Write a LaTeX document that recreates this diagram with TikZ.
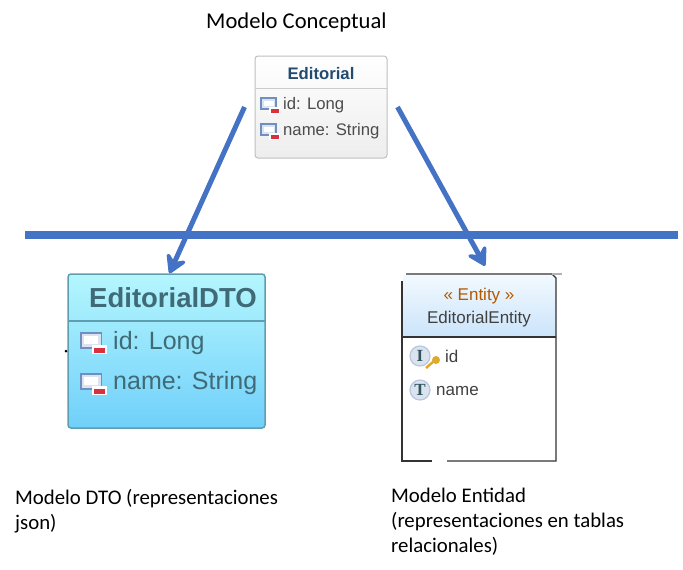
\documentclass[tikz,border=0pt]{standalone}
\usepackage{fontspec}
\setmainfont{Carlito}
\newfontfamily\umlfont{Liberation Sans}
\newfontfamily\umlserif{Liberation Serif}
\usetikzlibrary{arrows.meta}
\definecolor{slideblue}{HTML}{4472C4}
\definecolor{dtoedge}{HTML}{5F9DB0}
\definecolor{dtotext}{HTML}{3F6A76}
\definecolor{dtotop}{HTML}{B4F6FE}
\definecolor{dtobottom}{HTML}{70D0FA}
\definecolor{entitytop}{HTML}{F2F9FF}
\definecolor{entitybottom}{HTML}{CBE4FA}
\definecolor{editorialtext}{HTML}{234B6E}
\definecolor{iconblue}{HTML}{6F8FC0}
\definecolor{iconred}{HTML}{D8303C}
\definecolor{keygold}{HTML}{E0A92E}
\definecolor{entityedge}{HTML}{333333}
\tikzset{
    caption/.style = {anchor=north west, align=left, font=\fontsize{20.8}{25}\selectfont, inner sep=0pt},
    classbox/.style = {draw=#1, rounded corners=3pt, inner sep=0pt},
    fieldtext/.style = {anchor=west, inner sep=0pt, font=\umlfont},
    blueline/.style = {draw=slideblue, line width=5pt, -{Stealth[length=23pt,width=27pt,inset=9pt,round]}},
    badge/.style = {circle, draw=iconblue!50, line width=1.2pt, fill=iconblue!25, minimum size=20pt, inner sep=0pt, font=\umlserif\bfseries\fontsize{17}{17}\selectfont, text=dtotext!80!black},
    pics/fieldicon/.style = {code={
        \draw[iconblue, line width=1.4pt, fill=iconblue!25] (0,0) rectangle (15,11);
        \fill[white] (2.5,2.5) rectangle (12.5,8);
        \fill[white] (8,9) rectangle (19,15.5);
        \fill[iconred] (9.5,11) rectangle (18,14.5);
    }}
}
\begin{document}
\begin{tikzpicture}[x=1pt, y=-1pt]
    \useasboundingbox (0,0) rectangle (683,570);

    % Conceptual class
    \node[caption, font=\fontsize{22.6}{25}\selectfont] (conceptual) at (206,13) {Modelo Conceptual};
    \node[classbox=black!25, line width=1pt, minimum width=132pt, minimum height=102pt, top color=white, bottom color=black!7] (editorial) at (321,107) {};
    \draw[black!20, line width=1pt] (255,88) -- (387,88);
    \node[font=\umlfont\bfseries\fontsize{16.7}{16.7}\selectfont, text=editorialtext] (editorialname) at (321,74) {Editorial};
    \pic at (261,98) {fieldicon};
    \pic at (261,124) {fieldicon};
    \node[fieldtext, font=\umlfont\fontsize{16.7}{16.7}\selectfont, text=black!70] (editorialid) at (283,105) {id: Long};
    \node[fieldtext, font=\umlfont\fontsize{16.7}{16.7}\selectfont, text=black!70] (editorialfield) at (283,131) {name: String};

    % DTO class
    \node[classbox=dtoedge, line width=1.5pt, minimum width=197pt, minimum height=154pt, top color=dtotop, bottom color=dtobottom] (dto) at (166.5,351) {};
    \draw[dtoedge, line width=1.5pt] (68,321) -- (265,321);
    \node[font=\umlfont\bfseries\fontsize{27.5}{27.5}\selectfont, text=dtotext] (dtoname) at (173,298) {EditorialDTO};
    \pic[scale=1.35] at (81,333) {fieldicon};
    \pic[scale=1.35] at (81,374) {fieldicon};
    \node[fieldtext, font=\umlfont\fontsize{25}{25}\selectfont, text=dtotext] (dtoid) at (113,343) {id: Long};
    \node[fieldtext, font=\umlfont\fontsize{25}{25}\selectfont, text=dtotext] (dtofield) at (113,383) {name: String};
    \fill[black] (66,351) circle (1.5pt);

    % Entity class
    \path[top color=entitytop, bottom color=entitybottom] (403,275) rectangle (556,337);
    \node[inner sep=0pt, minimum width=154pt, minimum height=187pt] (entity) at (479,367.5) {};
    \draw[entityedge, line width=1.2pt] (406,274) -- (552,274) -- (556,278) -- (556,461) -- (447,461);
    \draw[black!30, line width=1.2pt] (552,274) -- (562,274);
    \draw[entityedge, line width=1.2pt] (432,461) -- (402,461) -- (402,281);
    \draw[entityedge, line width=1.2pt] (402,337) -- (556,337);
    \node[font=\umlfont\fontsize{17}{17}\selectfont, text=orange!70!black] (stereotype) at (479,296) {« Entity »};
    \node[font=\umlfont\fontsize{17}{17}\selectfont, text=black!75] (entityname) at (479,319) {EditorialEntity};
    \node[badge] (idbadge) at (420,356) {I};
    \draw[keygold, line width=2.5pt] (426,368) -- (434,361);
    \fill[keygold] (436,360) circle (4pt);
    \node[badge] (namebadge) at (420,390) {T};
    \node[fieldtext, font=\umlfont\fontsize{17}{17}\selectfont, text=black!75] (entityid) at (445,356) {id};
    \node[fieldtext, font=\umlfont\fontsize{17}{17}\selectfont, text=black!75] (entityfield) at (436,391) {name};

    % Divider and arrows
    \coordinate (dividerleft) at (25,235);
    \coordinate (dividerright) at (678,235);
    \draw[slideblue, line width=8pt] (dividerleft) -- (dividerright);
    \draw[blueline] ([xshift=-10pt]editorial.west) -- ([xshift=3pt,yshift=0pt]dto.north);
    \draw[blueline] ([xshift=10pt]editorial.east) -- ([xshift=6pt,yshift=8pt]entity.north);

    % Captions
    \node[caption] (dtocaption) at (15,489.5) {Modelo DTO (representaciones\\json)};
    \node[caption] (entitycaption) at (391,488) {Modelo Entidad\\(representaciones en tablas\\relacionales)};
\end{tikzpicture}
\end{document}
